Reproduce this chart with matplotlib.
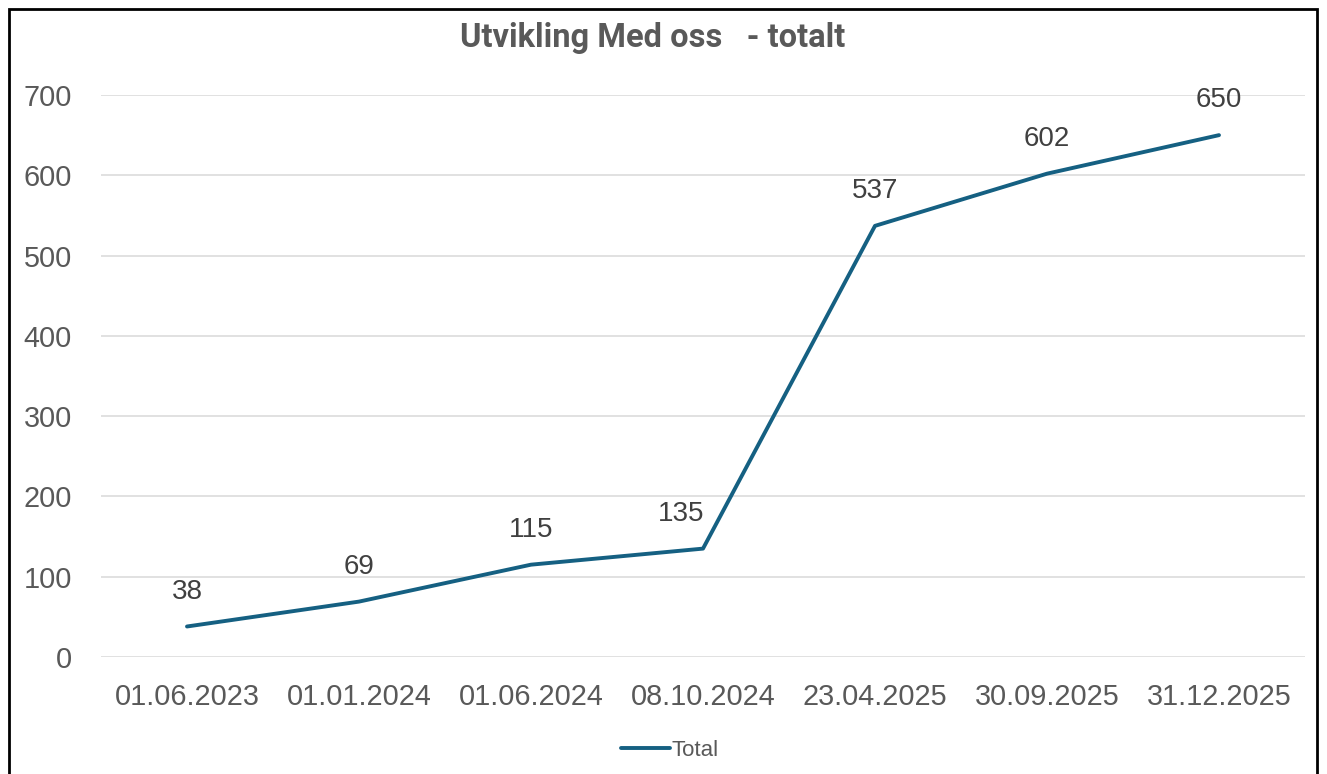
import matplotlib
matplotlib.use("Agg")
import matplotlib.pyplot as plt
from matplotlib.patches import Rectangle
from matplotlib.lines import Line2D

categories = ["01.06.2023", "01.01.2024", "01.06.2024", "08.10.2024",
              "23.04.2025", "30.09.2025", "31.12.2025"]
totals = [38, 69, 115, 135, 537, 602, 650]
yticks = [0, 100, 200, 300, 400, 500, 600, 700]
title = "Utvikling Med oss   - totalt"
series_name = "Total"

W, H = 1327, 774
fig = plt.figure(figsize=(W / 100, H / 100), dpi=100)
plt.rcParams["font.family"] = ["Liberation Sans", "DejaVu Sans"]

line_col = "#156082"
txt_col = "#595959"
grid_col = "#d9d9d9"

ax = fig.add_axes([101 / W, 1 - 657 / H, (1305 - 101) / W, (657 - 95) / H])
x = list(range(len(categories)))
ax.plot(x, totals, color=line_col, lw=2.8, solid_capstyle="round",
        solid_joinstyle="round", zorder=3)
label_dx = [0, 0, 0, -16, 0, 0, 0]  # label placement offsets (points)
for xi, v, dx in zip(x, totals, label_dx):
    ax.annotate(str(v), (xi, v), xytext=(dx, 25), textcoords="offset points",
                ha="center", va="center", fontsize=20, color="#404040")

ax.set_xlim(-0.5, len(categories) - 0.5)
ax.set_ylim(0, 700)
ax.set_yticks(yticks)
ax.set_xticks(x)
ax.set_xticklabels(categories)
ax.tick_params(axis="both", length=0, labelsize=20.8, labelcolor=txt_col)
ax.tick_params(axis="x", pad=19)
ax.tick_params(axis="y", pad=21)
ax.grid(axis="y", color=grid_col, lw=1.1)
ax.set_axisbelow(True)
for s in ax.spines.values():
    s.set_visible(False)

fig.text(653 / W, 1 - 38 / H, title, ha="center", va="center",
         fontsize=23.5, fontweight="bold", color=txt_col,
         family=["Roboto", "DejaVu Sans"])

handle = Line2D([], [], color=line_col, lw=2.8, solid_capstyle="round")
fig.legend([handle], [series_name], loc="center", bbox_to_anchor=(670 / W, 1 - 750 / H),
           frameon=False, fontsize=16, handlelength=2.2, handletextpad=0.1,
           labelcolor=txt_col)

frame = Rectangle((8.5 / W, -0.05), (1317 - 8.5) / W, 1.05 - 8.5 / H,
                  transform=fig.transFigure, fill=False, edgecolor="black",
                  lw=2, zorder=10)
fig.patches.append(frame)

fig.savefig("out.png", dpi=100, facecolor="white")
